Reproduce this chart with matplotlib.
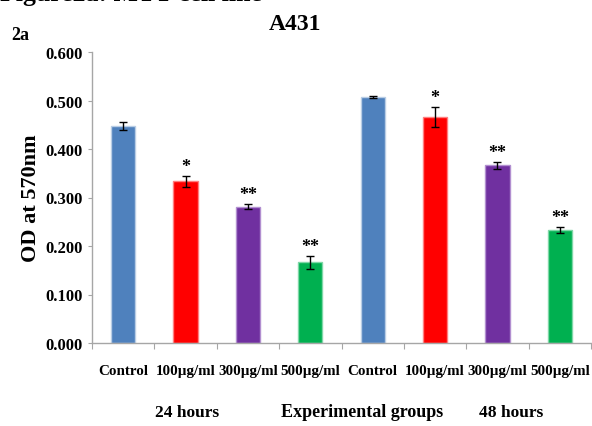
import matplotlib
matplotlib.use("Agg")
import matplotlib.pyplot as plt
import numpy as np

categories = ["Control", "100µg/ml", "300µg/ml", "500µg/ml",
              "Control", "100µg/ml", "300µg/ml", "500µg/ml"]
values = [0.448, 0.333, 0.281, 0.166, 0.508, 0.466, 0.366, 0.233]
errors = [0.008, 0.011, 0.005, 0.014, 0.002, 0.021, 0.008, 0.007]
stars = ["", "*", "**", "**", "", "*", "**", "**"]
yticks = [0.0, 0.1, 0.2, 0.3, 0.4, 0.5, 0.6]
colors = ["#4F81BD", "#FF0000", "#7030A0", "#00B050"] * 2
edges = ["#B9CDE5", "#FF7F7F", "#B28FD0", "#7FD7A7"] * 2

plt.rcParams['font.family'] = ['Liberation Serif', 'DejaVu Serif']
plt.rcParams['font.weight'] = 'bold'

fig = plt.figure(figsize=(5.92, 4.27), dpi=100)
ax = fig.add_axes([92/592, 83/427, 499/592, 291/427])

x = np.arange(len(categories))
ax.bar(x, values, width=0.39, color=colors, edgecolor=edges, linewidth=1.0, zorder=2)
ax.errorbar(x, values, yerr=errors, fmt='none', ecolor='black', elinewidth=1.0,
            capsize=3, capthick=1.0, zorder=3)
for xi, v, e, s in zip(x, values, errors, stars):
    if s:
        ax.text(xi, v + e + 0.010, s, ha='center', va='baseline', fontsize=13,
                fontweight='bold')

ax.set_xlim(-0.5, len(categories) - 0.5)
ax.set_ylim(0, 0.6)
ax.set_yticks(yticks)
ax.set_yticklabels([f"{t:.3f}" for t in yticks], fontsize=12, fontweight='bold')
ax.set_xticks(np.arange(-0.5, len(categories), 1.0))
ax.set_xticklabels([])
ax.set_xticks(x, minor=True)
ax.set_xticklabels(categories, minor=True, fontsize=10.8, fontweight='bold')
ax.tick_params(axis='x', which='minor', length=0, pad=15)
ax.tick_params(axis='x', which='major', length=4, color='#A6A6A6', direction='out')
ax.tick_params(axis='y', length=3, color='#A6A6A6', direction='out', pad=4)
for sp in ['top', 'right']:
    ax.spines[sp].set_visible(False)
for sp in ['left', 'bottom']:
    ax.spines[sp].set_color('#A6A6A6')
    ax.spines[sp].set_linewidth(1.0)

ax.set_ylabel("OD at 570nm", fontsize=16, fontweight='bold', labelpad=3)

fig.text(295/592, 1 - 25/427, "A431", ha='center', va='center', fontsize=17, fontweight='bold')
fig.text(11/592, 1 - 36/427, "2a", ha='left', va='center', fontsize=13, fontweight='bold')
fig.text(0/592, 1 - 1.5/427, "Figure2a: MTT cell line", ha='left', va='baseline',
         fontsize=18.5, fontweight='bold')
fig.text(187/592, 1 - 413/427, "24 hours", ha='center', va='center', fontsize=12.5, fontweight='bold')
fig.text(362/592, 1 - 413/427, "Experimental groups", ha='center', va='center', fontsize=13, fontweight='bold')
fig.text(511/592, 1 - 413/427, "48 hours", ha='center', va='center', fontsize=12.5, fontweight='bold')

fig.savefig("out.png", dpi=100)
